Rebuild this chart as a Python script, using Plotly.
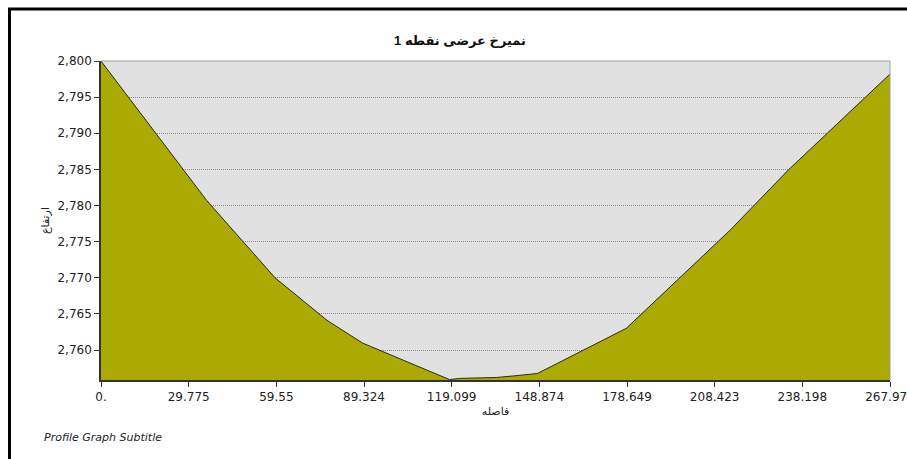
import plotly.graph_objects as go

# Cross-section profile: distance along the section vs. ground elevation
distance = [0.0, 35.9, 59.1, 76.8, 88.9, 118.4, 121.8, 134.3, 139.8, 148.2,
            178.4, 213.7, 233.4, 267.973]
elevation = [2800.0, 2780.7, 2770.0, 2764.1, 2760.95, 2755.9, 2756.07, 2756.2,
             2756.4, 2756.75, 2763.0, 2776.6, 2784.9, 2798.2]

x_tick_vals = [0.0, 29.775, 59.55, 89.324, 119.099, 148.874, 178.649,
               208.423, 238.198, 267.973]
x_tick_text = ["0.", "29.775", "59.55", "89.324", "119.099", "148.874",
               "178.649", "208.423", "238.198", "267.973"]
y_tick_vals = [2760, 2765, 2770, 2775, 2780, 2785, 2790, 2795, 2800]

title_text = "\u202bنمیرخ عرضی نقطه 1\u202c"
x_title = "فاصله"
y_title = "ارتفاع"
subtitle = "Profile Graph Subtitle"

W, H = 907, 459
ML, MR, MT, MB = 101, 17, 61, 79
PW, PH = W - ML - MR, H - MT - MB


def px_x(p):
    return (p - ML) / PW


def px_y(p):
    return (H - MB - p) / PH


FONT = "DejaVu Sans, Liberation Sans, sans-serif"
TXT = "#222222"

fig = go.Figure()
fig.add_trace(go.Scatter(
    x=distance, y=elevation, mode="lines",
    line=dict(color="#2a2a1a", width=1),
    fill="tozeroy", fillcolor="#aaaa02",
    hoverinfo="x+y", showlegend=False,
))

fig.update_layout(
    width=W, height=H,
    margin=dict(l=ML, r=MR, t=MT, b=MB, pad=0, autoexpand=False),
    paper_bgcolor="white",
    plot_bgcolor="#e1e1e1",
    font=dict(family=FONT, size=12, color=TXT),
    title=dict(text=title_text, x=460 / W, xanchor="center",
               y=1 - 40 / H, yanchor="middle",
               font=dict(family="Liberation Sans, DejaVu Sans, sans-serif",
                         size=13, color="#111111", weight="bold")),
    xaxis=dict(
        range=[0, 267.973], tickmode="array",
        tickvals=x_tick_vals, ticktext=x_tick_text,
        ticklabeloverflow="allow", automargin=False,
        showgrid=False, zeroline=False,
        showline=True, linecolor="#333333", linewidth=1.5,
        ticks="outside", ticklen=5, tickwidth=1.2, tickcolor="#333333",
        tickfont=dict(size=12, color=TXT),
        title=dict(text=x_title, standoff=4,
                   font=dict(size=11, color=TXT)),
    ),
    yaxis=dict(
        range=[2755.85, 2800.0], tickmode="array", tickvals=y_tick_vals,
        tickformat=",d", automargin=False,
        showgrid=True, gridcolor="#8a8a8a", gridwidth=1, griddash="1px,1px",
        zeroline=False,
        showline=True, linecolor="#333333", linewidth=1.5,
        ticks="outside", ticklen=5, tickwidth=1.2, tickcolor="#333333",
        tickfont=dict(size=12, color=TXT),
        title=dict(text=y_title, standoff=6,
                   font=dict(size=11, color=TXT)),
    ),
    shapes=[
        # light border along the top and right of the plot area
        dict(type="line", xref="paper", yref="paper", x0=0, x1=1, y0=1, y1=1,
             line=dict(color="#a0a0a0", width=1), layer="above"),
        dict(type="line", xref="paper", yref="paper", x0=1, x1=1, y0=0, y1=1,
             line=dict(color="#a0a0a0", width=1), layer="above"),
        # heavy frame along the top and left of the panel
        dict(type="line", xref="paper", yref="paper",
             x0=px_x(8), x1=px_x(W + 10), y0=px_y(9), y1=px_y(9),
             line=dict(color="black", width=3), layer="above"),
        dict(type="line", xref="paper", yref="paper",
             x0=px_x(9.5), x1=px_x(9.5), y0=px_y(8), y1=px_y(H + 10),
             line=dict(color="black", width=3), layer="above"),
    ],
    annotations=[
        dict(text=subtitle, xref="paper", yref="paper",
             x=px_x(42), y=px_y(437), xanchor="left", yanchor="middle",
             showarrow=False,
             font=dict(family="DejaVu Sans, Liberation Sans, sans-serif",
                       size=11, color="#222222", style="italic")),
    ],
)

fig.write_html("out.html")
